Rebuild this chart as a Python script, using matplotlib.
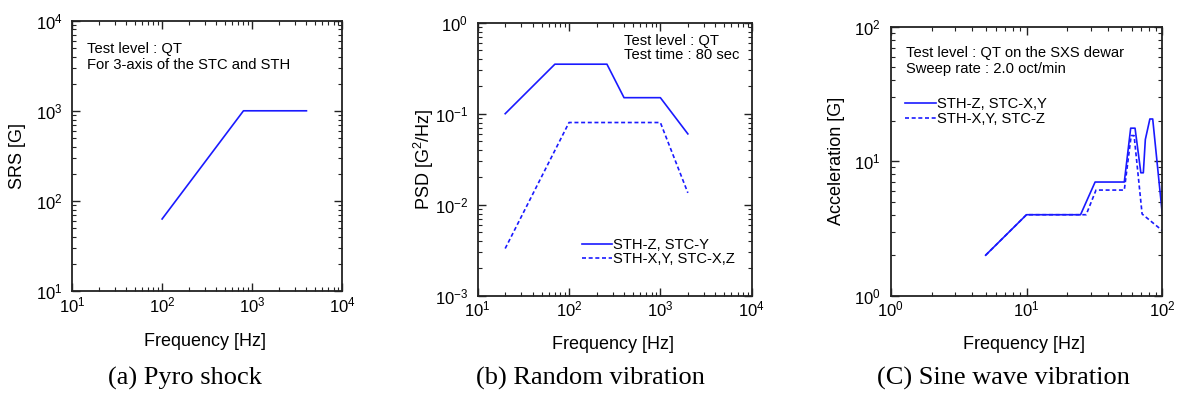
import matplotlib
matplotlib.use("Agg")
import matplotlib.pyplot as plt
from matplotlib.ticker import LogLocator, NullFormatter

plt.rcParams['font.family'] = ['Liberation Sans', 'DejaVu Sans']
plt.rcParams['mathtext.default'] = 'regular'

# (a) Pyro shock
pyro_freq = [100, 800, 4000]
pyro_srs = [63, 1000, 1000]

# (b) Random vibration
rand_freq_1 = [20, 70, 260, 400, 1000, 2000]
rand_psd_1 = [0.1, 0.35, 0.35, 0.15, 0.15, 0.06]
rand_freq_2 = [20, 100, 1000, 2000]
rand_psd_2 = [0.0033, 0.08, 0.08, 0.0135]
rand_labels = ["STH-Z, STC-Y", "STH-X,Y, STC-X,Z"]

# (c) Sine wave vibration
sine_freq_1 = [5, 10, 25, 32, 52.5, 58.5, 63, 69.5, 72.5, 75, 81, 85, 100]
sine_acc_1 = [2, 4, 4, 7, 7, 17.6, 17.6, 8.2, 8.2, 14.5, 20.6, 20.6, 4.05]
sine_freq_2 = [5, 10, 27.5, 32.5, 52.5, 59, 62, 71, 100]
sine_acc_2 = [2, 4, 4, 6.1, 6.1, 15.5, 15.5, 4.05, 3.05]
sine_labels = ["STH-Z, STC-X,Y", "STH-X,Y, STC-Z"]

captions = ["(a) Pyro shock", "(b) Random vibration", "(C) Sine wave vibration"]

W, H = 1188, 396
fig = plt.figure(figsize=(W / 100, H / 100), dpi=100)

def add_ax(l, t, r, b):
    return fig.add_axes([l / W, (H - b) / H, (r - l) / W, (b - t) / H])

ax1 = add_ax(72, 20.7, 342.3, 291)
ax2 = add_ax(477.7, 22.7, 751.7, 295.7)
ax3 = add_ax(890.7, 26.7, 1162.3, 295.7)

LC = '#1a1aff'
DASH = (0, (2.4, 1.6))

def style(ax, xlim, ylim):
    ax.set_xscale('log')
    ax.set_yscale('log')
    ax.set_xlim(*xlim)
    ax.set_ylim(*ylim)
    for axis in (ax.xaxis, ax.yaxis):
        axis.set_major_locator(LogLocator(base=10, numticks=10))
        axis.set_minor_locator(LogLocator(base=10, subs=range(2, 10), numticks=10))
        axis.set_minor_formatter(NullFormatter())
    ax.tick_params(which='both', direction='in', top=True, right=True, color='#222222')
    ax.tick_params(which='major', length=5.5, width=1.0, labelsize=12)
    ax.tick_params(which='minor', length=3.0, width=0.8)
    ax.tick_params(axis='x', which='major', pad=3)
    ax.tick_params(axis='y', which='major', pad=7)
    for s in ax.spines.values():
        s.set_linewidth(1.3)
        s.set_color('#222222')

# (a)
style(ax1, (10, 1e4), (10, 1e4))
ax1.plot(pyro_freq, pyro_srs, color=LC, lw=1.2)
ax1.set_xlabel('Frequency [Hz]', fontsize=13)
ax1.set_ylabel('SRS [G]', fontsize=13)
ax1.text(0.0556, 0.880, 'Test level : QT', transform=ax1.transAxes, fontsize=10.6, va='baseline')
ax1.text(0.0556, 0.822, 'For 3-axis of the STC and STH', transform=ax1.transAxes, fontsize=10.6, va='baseline')

# (b)
style(ax2, (10, 1e4), (1e-3, 1))
ax2.plot(rand_freq_1, rand_psd_1, color=LC, lw=1.2, label=rand_labels[0])
ax2.plot(rand_freq_2, rand_psd_2, color=LC, lw=1.2, ls=DASH, label=rand_labels[1])
ax2.set_xlabel('Frequency [Hz]', fontsize=13)
ax2.set_ylabel('PSD [G$^2$/Hz]', fontsize=13)
ax2.text(0.534, 0.918, 'Test level : QT', transform=ax2.transAxes, fontsize=10.6, va='baseline')
ax2.text(0.534, 0.866, 'Test time : 80 sec', transform=ax2.transAxes, fontsize=10.6, va='baseline')
ax2.legend(loc='upper left', bbox_to_anchor=(0.381, 0.211), frameon=False, fontsize=10.6,
           handlelength=2.0, handletextpad=0.1, borderpad=0, borderaxespad=0, labelspacing=0.0)

# (c)
style(ax3, (1, 100), (1, 100))
ax3.plot(sine_freq_1, sine_acc_1, color=LC, lw=1.2, label=sine_labels[0])
ax3.plot(sine_freq_2, sine_acc_2, color=LC, lw=1.2, ls=DASH, label=sine_labels[1])
ax3.set_xlabel('Frequency [Hz]', fontsize=13)
ax3.set_ylabel('Acceleration [G]', fontsize=13)
ax3.text(0.055, 0.886, 'Test level : QT on the SXS dewar', transform=ax3.transAxes, fontsize=10.6, va='baseline')
ax3.text(0.055, 0.829, 'Sweep rate : 2.0 oct/min', transform=ax3.transAxes, fontsize=10.6, va='baseline')
ax3.legend(loc='upper left', bbox_to_anchor=(0.053, 0.738), frameon=False, fontsize=10.6,
           handlelength=2.1, handletextpad=0.1, borderpad=0, borderaxespad=0, labelspacing=0.08)

# label positions
for ax, xl, yl in ((ax1, (0.493, -0.185), (-0.202, 0.5)),
                   (ax2, (0.494, -0.179), (-0.195, 0.5)),
                   (ax3, (0.491, -0.183), (-0.199, 0.5))):
    ax.xaxis.label.set_verticalalignment('center')
    ax.yaxis.label.set_verticalalignment('center')
    ax.xaxis.set_label_coords(*xl)
    ax.yaxis.set_label_coords(*yl)

for cx, cap in zip((184.5, 590.5, 1003), captions):
    fig.text(cx / W, (H - 378) / H, cap, ha='center', va='center', fontsize=19,
             family=['Liberation Serif', 'DejaVu Serif'])

fig.savefig('out.png', dpi=100)
